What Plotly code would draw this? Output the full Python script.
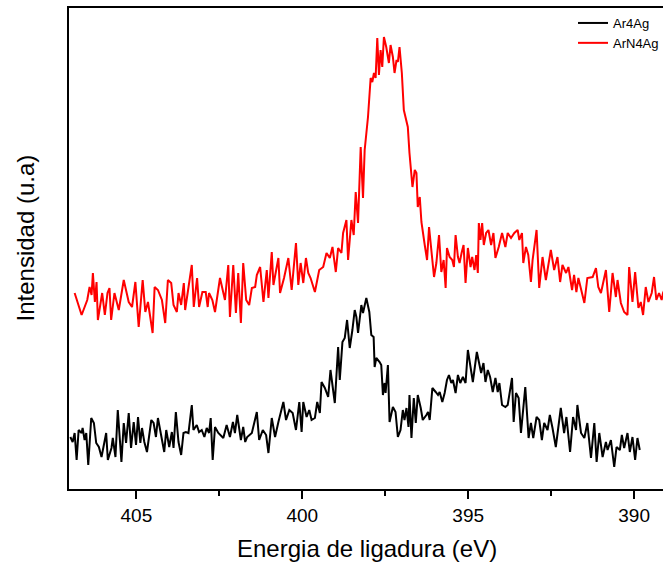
import plotly.graph_objects as go

# Binding energy (eV) and intensity (a.u.)
ar4ag_energy = [406.99, 406.92, 406.86, 406.80, 406.74, 406.65, 406.62, 406.56, 406.51, 406.45,
    406.36, 406.28, 406.21, 406.13, 406.05, 405.98, 405.91, 405.86, 405.75, 405.71,
    405.63, 405.56, 405.51, 405.45, 405.38, 405.31, 405.23, 405.16, 405.08, 405.01,
    404.95, 404.88, 404.83, 404.76, 404.68, 404.55, 404.48, 404.41, 404.35, 404.25,
    404.16, 404.10, 404.01, 403.93, 403.88, 403.81, 403.73, 403.65, 403.58, 403.51,
    403.43, 403.33, 403.28, 403.18, 403.11, 403.03, 402.95, 402.88, 402.81, 402.76,
    402.70, 402.63, 402.53, 402.38, 402.28, 402.18, 402.09, 402.03, 401.96, 401.85,
    401.78, 401.72, 401.66, 401.52, 401.37, 401.30, 401.19, 401.09, 401.02, 400.92,
    400.82, 400.72, 400.65, 400.57, 400.49, 400.39, 400.29, 400.19, 400.09, 400.02,
    399.97, 399.87, 399.79, 399.72, 399.62, 399.55, 399.47, 399.42, 399.32, 399.22,
    399.15, 399.02, 398.92, 398.87, 398.79, 398.72, 398.65, 398.57, 398.49, 398.42,
    398.37, 398.32, 398.22, 398.17, 398.07, 397.98, 397.92, 397.85, 397.82, 397.77,
    397.67, 397.62, 397.57, 397.52, 397.49, 397.42, 397.37, 397.27, 397.19, 397.12,
    397.04, 396.97, 396.92, 396.86, 396.80, 396.77, 396.71, 396.64, 396.58, 396.52,
    396.43, 396.37, 396.26, 396.21, 396.16, 396.08, 395.98, 395.91, 395.86, 395.78,
    395.71, 395.64, 395.58, 395.51, 395.46, 395.38, 395.31, 395.24, 395.16, 395.08,
    395.01, 394.94, 394.86, 394.74, 394.66, 394.61, 394.54, 394.48, 394.41, 394.34,
    394.26, 394.18, 394.11, 394.06, 393.98, 393.88, 393.81, 393.76, 393.68, 393.63,
    393.56, 393.48, 393.41, 393.28, 393.18, 393.11, 393.04, 392.94, 392.86, 392.78,
    392.71, 392.61, 392.54, 392.46, 392.36, 392.21, 392.11, 392.04, 391.93, 391.84,
    391.75, 391.71, 391.60, 391.50, 391.41, 391.30, 391.20, 391.13, 391.05, 390.95,
    390.85, 390.80, 390.70, 390.60, 390.53, 390.43, 390.37, 390.30, 390.20, 390.13,
    390.05, 389.97, 389.90, 389.83]
ar4ag_intensity = [50, 45, 54, 27, 57, 54, 59, 47, 54, 22,
    69, 64, 44, 40, 30, 44, 54, 27, 39, 49,
    30, 77, 50, 25, 64, 44, 74, 39, 65, 42,
    70, 44, 59, 45, 35, 67, 64, 50, 69, 52,
    35, 57, 40, 55, 39, 75, 45, 32, 54, 55,
    54, 82, 57, 62, 55, 57, 50, 59, 54, 69,
    27, 60, 54, 49, 62, 50, 65, 54, 72, 47,
    60, 45, 50, 54, 75, 47, 57, 52, 34, 69,
    50, 65, 74, 85, 67, 77, 74, 57, 85, 55,
    85, 70, 77, 67, 69, 85, 74, 105, 99, 90,
    117, 84, 140, 107, 145, 149, 167, 139, 157, 177,
    170, 154, 182, 174, 189, 175, 152, 150, 120, 129,
    125, 122, 92, 104, 94, 122, 65, 80, 75, 50,
    57, 77, 67, 79, 60, 92, 49, 89, 64, 92,
    79, 67, 72, 75, 67, 99, 95, 92, 95, 85,
    94, 107, 112, 104, 107, 94, 112, 104, 110, 104,
    137, 124, 105, 135, 124, 114, 124, 105, 117, 110,
    95, 109, 95, 104, 82, 80, 82, 94, 109, 65,
    94, 89, 54, 100, 49, 64, 49, 70, 67, 47,
    64, 57, 72, 59, 40, 79, 54, 70, 35, 70,
    57, 82, 54, 49, 64, 29, 64, 25, 54, 30,
    45, 37, 47, 20, 40, 37, 52, 39, 54, 35,
    50, 27, 49, 37]

arn4ag_energy = [406.86, 406.65, 406.48, 406.41, 406.35, 406.31, 406.25, 406.20, 406.16, 406.03,
    405.95, 405.87, 405.81, 405.76, 405.66, 405.53, 405.38, 405.23, 405.13, 405.03,
    404.93, 404.81, 404.73, 404.65, 404.51, 404.45, 404.35, 404.23, 404.13, 404.05,
    403.95, 403.88, 403.78, 403.73, 403.65, 403.57, 403.53, 403.43, 403.33, 403.27,
    403.17, 403.11, 403.01, 402.91, 402.85, 402.81, 402.71, 402.63, 402.48, 402.33,
    402.23, 402.18, 402.08, 402.00, 401.93, 401.85, 401.78, 401.69, 401.60, 401.52,
    401.42, 401.37, 401.27, 401.17, 401.07, 401.02, 400.92, 400.87, 400.72, 400.67,
    400.55, 400.42, 400.32, 400.19, 400.12, 400.05, 399.97, 399.89, 399.82, 399.75,
    399.62, 399.49, 399.37, 399.27, 399.17, 399.09, 398.99, 398.92, 398.82, 398.77,
    398.67, 398.62, 398.52, 398.45, 398.39, 398.32, 398.24, 398.17, 398.12, 398.02,
    397.94, 397.89, 397.84, 397.79, 397.74, 397.69, 397.64, 397.59, 397.54, 397.47,
    397.39, 397.34, 397.27, 397.22, 397.16, 397.12, 397.07, 397.00, 396.94, 396.82,
    396.77, 396.68, 396.61, 396.56, 396.52, 396.46, 396.41, 396.31, 396.24, 396.18,
    396.11, 396.03, 395.96, 395.88, 395.81, 395.74, 395.68, 395.64, 395.56, 395.48,
    395.43, 395.38, 395.31, 395.26, 395.20, 395.14, 395.08, 395.01, 394.93, 394.88,
    394.81, 394.76, 394.71, 394.68, 394.63, 394.58, 394.53, 394.46, 394.39, 394.31,
    394.24, 394.18, 394.08, 393.98, 393.88, 393.81, 393.71, 393.61, 393.51, 393.46,
    393.38, 393.34, 393.26, 393.19, 393.11, 393.06, 392.94, 392.86, 392.76, 392.66,
    392.51, 392.41, 392.31, 392.23, 392.16, 392.05, 391.98, 391.87, 391.81, 391.74,
    391.68, 391.60, 391.50, 391.41, 391.25, 391.15, 391.08, 391.00, 390.85, 390.75,
    390.65, 390.55, 390.50, 390.40, 390.30, 390.20, 390.15, 390.05, 389.97, 389.87,
    389.80, 389.73, 389.65, 389.57, 389.47, 389.40, 389.33, 389.25, 389.17, 389.13,
    389.05]
arn4ag_intensity = [194, 172, 187, 200, 192, 214, 185, 205, 167, 194,
    172, 194, 199, 167, 194, 177, 207, 185, 180, 205,
    160, 207, 175, 185, 154, 200, 197, 187, 164, 207,
    204, 182, 175, 194, 182, 204, 177, 199, 222, 180,
    209, 180, 195, 195, 180, 194, 187, 175, 209, 187,
    222, 170, 222, 174, 214, 164, 224, 187, 182, 199,
    200, 212, 220, 185, 217, 189, 235, 202, 229, 194,
    209, 229, 197, 244, 202, 224, 204, 229, 214, 209,
    195, 217, 220, 234, 229, 240, 215, 239, 234, 254,
    267, 227, 267, 252, 295, 264, 340, 289, 337, 370,
    409, 405, 414, 409, 449, 412, 437, 420, 450, 440,
    424, 442, 430, 414, 427, 425, 440, 414, 377, 360,
    334, 300, 317, 314, 280, 290, 265, 242, 227, 260,
    237, 210, 224, 252, 215, 227, 199, 239, 230, 227,
    220, 252, 230, 224, 234, 242, 204, 239, 220, 230,
    217, 232, 214, 264, 247, 264, 242, 254, 257, 242,
    254, 229, 240, 254, 240, 254, 249, 254, 257, 247,
    254, 224, 240, 232, 205, 227, 257, 199, 230, 207,
    237, 217, 230, 205, 222, 214, 220, 197, 212, 195,
    209, 197, 184, 209, 210, 219, 200, 194, 217, 175,
    214, 190, 207, 184, 175, 172, 220, 185, 215, 179,
    185, 172, 200, 185, 194, 210, 187, 194, 187, 194,
    200]

series_names = ["Ar4Ag", "ArN4Ag"]
series_colors = ["#000000", "#ff0000"]
x_tick_values = [405, 400, 395, 390]
x_tick_labels = ["405", "400", "395", "390"]

FONT = "Liberation Sans, Arial, sans-serif"

fig = go.Figure()
fig.add_trace(go.Scatter(x=ar4ag_energy, y=ar4ag_intensity, mode="lines",
                         name=series_names[0], line=dict(color=series_colors[0], width=2)))
fig.add_trace(go.Scatter(x=arn4ag_energy, y=arn4ag_intensity, mode="lines",
                         name=series_names[1], line=dict(color=series_colors[1], width=2)))

fig.update_layout(
    width=664, height=567,
    margin=dict(l=69, r=0, t=8, b=78),
    paper_bgcolor="white", plot_bgcolor="white",
    font=dict(family=FONT, color="black"),
    showlegend=True,
    legend=dict(x=0.848, y=1.0, xanchor="left", yanchor="top",
                font=dict(size=13, family=FONT), bgcolor="rgba(0,0,0,0)",
                itemwidth=30, tracegroupgap=0),
    xaxis=dict(range=[407.03, 389.13], showgrid=False, zeroline=False,
               showline=True, linecolor="black", linewidth=2, mirror=True,
               ticks="outside", ticklen=8, tickwidth=1.5, tickcolor="black",
               tickvals=x_tick_values, ticktext=x_tick_labels,
               tickfont=dict(size=19, family=FONT),
               minor=dict(dtick=2.5, tick0=390, ticks="outside", ticklen=5,
                          tickwidth=1.5, tickcolor="black")),
    yaxis=dict(range=[-2, 479], showgrid=False, zeroline=False,
               showline=True, linecolor="black", linewidth=2, mirror=False,
               ticks="", showticklabels=False),
    annotations=[
        dict(text="Energia de ligadura (eV)", xref="paper", yref="paper",
             x=0.5025, y=-0.1227, xanchor="center", yanchor="middle",
             showarrow=False, font=dict(size=24, family=FONT)),
        dict(text="Intensidad (u.a)", xref="paper", yref="paper",
             x=-0.074, y=0.521, xanchor="center", yanchor="middle",
             textangle=-90, showarrow=False, font=dict(size=24, family=FONT)),
    ],
)

fig.write_html("out.html", config={"displayModeBar": False},
               post_script="document.body.style.margin='0';document.body.style.overflow='hidden';")
